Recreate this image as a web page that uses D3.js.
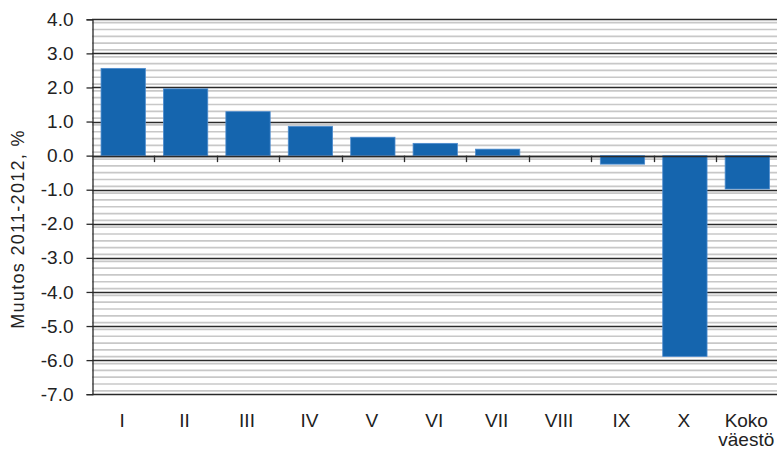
<!DOCTYPE html>
<html><head><meta charset="utf-8">
<script src="https://cdn.jsdelivr.net/npm/d3@7/dist/d3.min.js"></script>
<style>body{margin:0;background:#fff}svg{display:block}text{font-family:"Liberation Sans",Arial,sans-serif;fill:#222}</style>
</head><body><svg id="c" width="777" height="453"></svg>
<script>
const categories = ["I","II","III","IV","V","VI","VII","VIII","IX","X","Koko\nväestö"];
const values = [2.56, 1.96, 1.29, 0.86, 0.54, 0.36, 0.19, 0.0, -0.25, -5.89, -0.98];
const yTicks = [4,3,2,1,0,-1,-2,-3,-4,-5,-6,-7];
const yTitle = "Muutos 2011-2012, %";

const svg = d3.select("#c");
const L = 92, R = 778.5, T = 19.3, B = 394.2;
const x = d3.scaleBand().domain(categories).range([L, R]).paddingInner(0.29).paddingOuter(0.145);
const xb = d3.scaleBand().domain(categories).range([L, R]);
const y = d3.scaleLinear().domain([-7, 4]).range([B, T]);

// minor gridlines
const minor = d3.range(-69, 40, 2).map(v => v / 10).filter(v => Math.abs(Math.round(v) - v) > 1e-6);
svg.append("g").selectAll("line").data(minor).join("line")
  .attr("x1", L).attr("x2", 777).attr("y1", d => y(d)).attr("y2", d => y(d))
  .attr("stroke", "#c8c8c8").attr("stroke-width", 1.7);
// major gridlines
svg.append("g").selectAll("line").data(yTicks).join("line")
  .attr("x1", L).attr("x2", 777).attr("y1", d => Math.round(y(d)) + 0.5).attr("y2", d => Math.round(y(d)) + 0.5)
  .attr("stroke", "#2a2a2a").attr("stroke-width", 1.3);

// bars
svg.append("g").selectAll("rect").data(values).join("rect")
  .attr("x", (d, i) => x(categories[i]))
  .attr("width", x.bandwidth())
  .attr("y", d => y(Math.max(0, d)))
  .attr("height", d => Math.abs(y(d) - y(0)))
  .attr("fill", "#1565ae").attr("stroke", "#4d8ccf").attr("stroke-width", 0.8);

// zero line
svg.append("line").attr("x1", L).attr("x2", 777).attr("y1", Math.round(y(0)) + 0.5).attr("y2", Math.round(y(0)) + 0.5)
  .attr("stroke", "#2a2a2a").attr("stroke-width", 1.3);

// x ticks at category boundaries on zero line
svg.append("g").selectAll("line").data(categories.slice(1)).join("line")
  .attr("x1", d => Math.round(xb(d)) + 0.5).attr("x2", d => Math.round(xb(d)) + 0.5)
  .attr("y1", y(0)).attr("y2", y(0) + 6.5)
  .attr("stroke", "#2a2a2a").attr("stroke-width", 1.3);

// left axis
const fmt = d => d3.format(".1f")(d).replace("\u2212", "-");
const yAxis = d3.axisLeft(y).tickValues(yTicks).tickFormat(fmt).tickSize(6).tickPadding(13);
const ga = svg.append("g").attr("transform", `translate(${L + 0.5},0)`).call(yAxis);
ga.select(".domain").attr("stroke", "#2a2a2a").attr("stroke-width", 1.3);
ga.selectAll(".tick line").attr("stroke", "#2a2a2a").attr("stroke-width", 1.3);
ga.selectAll(".tick text").attr("font-size", 19).attr("font-family", "Liberation Sans, Arial, sans-serif").attr("fill", "#222");

// x labels
const gx = svg.append("g");
categories.forEach(c => {
  const lines = c.split("\n");
  const t = gx.append("text").attr("text-anchor", "middle").attr("font-size", 19)
    .attr("x", xb(c) + xb.bandwidth() / 2 - 1);
  lines.forEach((ln, j) => t.append("tspan").attr("x", xb(c) + xb.bandwidth() / 2 - 1).attr("y", 427 + j * 19).text(ln));
});

// y title
svg.append("text").attr("transform", "translate(24,229) rotate(-90)").attr("text-anchor", "middle")
  .attr("font-size", 18).attr("letter-spacing", 1.3).text(yTitle);
</script></body></html>
